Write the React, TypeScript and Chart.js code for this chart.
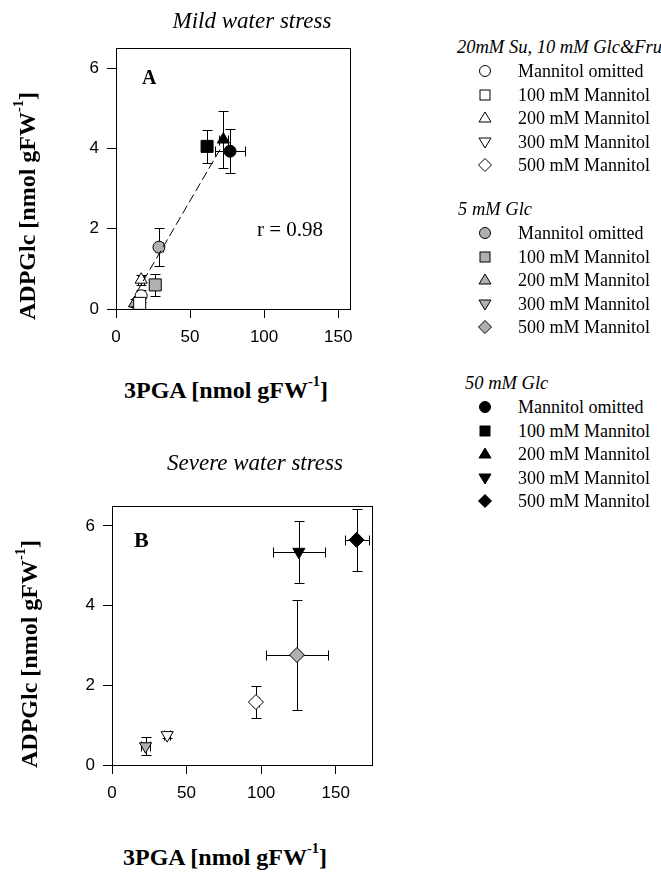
import React, { useEffect, useRef } from "react";
import { Chart, registerables } from "chart.js";
Chart.register(...registerables);

// ---------- DATA ----------
// groups: 0 = 20mM Su, 10 mM Glc&Fru ; 1 = 5 mM Glc ; 2 = 50 mM Glc
// treatments: 0 = omitted, 1 = 100 mM, 2 = 200 mM, 3 = 300 mM, 4 = 500 mM
const groupTitles = ["20mM Su, 10 mM Glc&Fru", "5 mM Glc", "50 mM Glc"];
const treatmentLabels = ["Mannitol omitted", "100 mM Mannitol", "200 mM Mannitol", "300 mM Mannitol", "500 mM Mannitol"];

// Panel A — mild water stress
const mildGroup = [0, 0, 0, 1, 1, 1, 2, 2, 2];
const mildTreat = [1, 0, 2, 2, 1, 0, 1, 2, 0];
const mildPGA = [16, 17, 17, 12.5, 26.5, 29, 61.5, 72.5, 77];
const mildADPGlc = [0.14, 0.33, 0.73, 0.14, 0.6, 1.54, 4.05, 4.22, 3.93];
const mildPGAErr = [1.5, 2, 2, 1.5, 2, 3, 3, 3, 10];
const mildADPGlcErr = [0.08, 0.15, 0.12, 0.1, 0.27, 0.48, 0.42, 0.72, 0.55];
const mildFitPGA = [14, 70.5];
const mildFitADPGlc = [0.42, 3.99];
const mildR = "r = 0.98";

// Panel B — severe water stress
const severeGroup = [0, 0, 1, 1, 2, 2];
const severeTreat = [3, 4, 3, 4, 3, 4];
const severePGA = [37, 96.5, 22.5, 124, 125.3, 164];
const severeADPGlc = [0.75, 1.58, 0.47, 2.76, 5.35, 5.65];
const severePGAErr = [2, 2, 3, 21, 17.5, 8];
const severeADPGlcErr = [0.08, 0.4, 0.23, 1.38, 0.78, 0.78];

const xTicks = [0, 50, 100, 150];
const yTicks = [0, 2, 4, 6];

// ---------- STYLES ----------
const SERIF = '"Liberation Serif", "Times New Roman", serif';
const SANS = '"Liberation Sans", Arial, sans-serif';
const groupFill = ["#ffffff", "#b0b0b0", "#000000"];
const treatShape = ["circle", "rect", "triangle", "triangle", "rectRot"];
const treatRot = [0, 0, 0, 180, 0];
const treatRadius = [6, 8.5, 7, 7, 7.5];

const snap = (v: number) => Math.round(v) + 0.5;

const errorAndFrame = {
  id: "errorAndFrame",
  beforeDatasetsDraw(chart: any) {
    const ctx = chart.ctx;
    const xs = chart.scales.x;
    const ys = chart.scales.y;
    ctx.save();
    ctx.strokeStyle = "#000";
    ctx.lineWidth = 1;
    const cap = 5;
    chart.data.datasets.forEach((ds: any) => {
      if (ds.errX == null) return;
      const p = ds.data[0];
      const px = snap(xs.getPixelForValue(p.x));
      const py = snap(ys.getPixelForValue(p.y));
      const x0 = snap(xs.getPixelForValue(p.x - ds.errX));
      const x1 = snap(xs.getPixelForValue(p.x + ds.errX));
      const y0 = snap(ys.getPixelForValue(p.y - ds.errY));
      const y1 = snap(ys.getPixelForValue(p.y + ds.errY));
      ctx.beginPath();
      ctx.moveTo(px, y0); ctx.lineTo(px, y1);
      ctx.moveTo(px - cap, y0); ctx.lineTo(px + cap, y0);
      ctx.moveTo(px - cap, y1); ctx.lineTo(px + cap, y1);
      ctx.moveTo(x0, py); ctx.lineTo(x1, py);
      ctx.moveTo(x0, py - cap); ctx.lineTo(x0, py + cap);
      ctx.moveTo(x1, py - cap); ctx.lineTo(x1, py + cap);
      ctx.stroke();
    });
    ctx.restore();
  },
  afterDraw(chart: any) {
    const a = chart.chartArea;
    const ctx = chart.ctx;
    ctx.save();
    ctx.strokeStyle = "#000";
    ctx.lineWidth = 1;
    ctx.strokeRect(Math.round(a.left) + 0.5, Math.round(a.top) + 0.5, Math.round(a.right - a.left), Math.round(a.bottom - a.top));
    ctx.restore();
  },
};

function buildDatasets(group: number[], treat: number[], xv: number[], yv: number[], xe: number[], ye: number[]) {
  return xv.map((x, i) => ({
    type: "scatter",
    data: [{ x, y: yv[i] }],
    errX: xe[i],
    errY: ye[i],
    pointStyle: treatShape[treat[i]],
    rotation: treatRot[treat[i]],
    pointRadius: treatRadius[treat[i]],
    backgroundColor: groupFill[group[i]],
    borderColor: "#000",
    borderWidth: 1,
  }));
}

function makeOptions(xMax: number, pad: any, yW: number, xH: number) {
  const common = (ticks: number[]) => ({
    afterBuildTicks: (s: any) => { s.ticks = ticks.map((v) => ({ value: v })); },
    grid: { drawOnChartArea: false, drawTicks: true, tickLength: 9, color: "#000", tickColor: "#000" },
    border: { display: true, color: "#000", width: 1 },
  });
  return {
    responsive: false,
    animation: false,
    layout: { padding: pad },
    plugins: { legend: { display: false }, tooltip: { enabled: false } },
    scales: {
      x: {
        type: "linear", min: 0, max: xMax, position: "bottom",
        ...common(xTicks),
        afterFit: (s: any) => { s.height = xH; },
        ticks: { font: { family: SANS, size: 17 }, color: "#000", padding: 9, maxRotation: 0, autoSkip: false },
      },
      y: {
        type: "linear", min: 0, max: 6.5, position: "left",
        ...common(yTicks),
        afterFit: (s: any) => { s.width = yW; },
        ticks: { font: { family: SANS, size: 17 }, color: "#000", padding: 8, autoSkip: false },
      },
    },
  };
}

function Marker({ g, t }: { g: number; t: number }) {
  const fill = groupFill[g];
  const c = 8;
  let shape: any;
  if (t === 0) shape = <circle cx={c} cy={c} r={5.5} fill={fill} stroke="#000" strokeWidth={1} />;
  else if (t === 1) shape = <rect x={c - 5} y={c - 5} width={10} height={10} fill={fill} stroke="#000" strokeWidth={1} />;
  else if (t === 2) shape = <polygon points={`${c},${c - 6} ${c + 6},${c + 4} ${c - 6},${c + 4}`} fill={fill} stroke="#000" strokeWidth={1} />;
  else if (t === 3) shape = <polygon points={`${c},${c + 6} ${c + 6},${c - 4} ${c - 6},${c - 4}`} fill={fill} stroke="#000" strokeWidth={1} />;
  else shape = <polygon points={`${c},${c - 6.5} ${c + 6.5},${c} ${c},${c + 6.5} ${c - 6.5},${c}`} fill={fill} stroke="#000" strokeWidth={1} />;
  return <svg width={16} height={16} style={{ display: "block" }}>{shape}</svg>;
}

const abs = (left: number, top: number, extra: any = {}) => ({
  position: "absolute" as const, left, top, whiteSpace: "nowrap" as const, lineHeight: 1, ...extra,
});

function AxisTitle({ text, cx, cy, rotate }: { text: string; cx: number; cy: number; rotate?: boolean }) {
  return (
    <div style={abs(cx, cy, {
      transform: `translate(-50%, -50%)${rotate ? " rotate(-90deg)" : ""}`,
      fontFamily: SERIF, fontWeight: "bold", fontSize: 24, color: "#000",
    })}>
      {text} [nmol gFW<sup style={{ fontSize: "0.6em", verticalAlign: "0.8em" }}>-1</sup>]
    </div>
  );
}

export default function App() {
  const refA = useRef<HTMLCanvasElement>(null);
  const refB = useRef<HTMLCanvasElement>(null);

  useEffect(() => {
    const dsA: any[] = buildDatasets(mildGroup, mildTreat, mildPGA, mildADPGlc, mildPGAErr, mildADPGlcErr);
    dsA.unshift({
      type: "line",
      data: mildFitPGA.map((x, i) => ({ x, y: mildFitADPGlc[i] })),
      borderColor: "#000", borderWidth: 1, borderDash: [9, 4], pointRadius: 0, fill: false,
    });
    const chartA = new Chart(refA.current as any, {
      type: "scatter",
      data: { datasets: dsA },
      options: makeOptions(158, { left: 0, top: 48, right: 30, bottom: 0 }, 116, 51) as any,
      plugins: [errorAndFrame],
    } as any);
    const dsB: any[] = buildDatasets(severeGroup, severeTreat, severePGA, severeADPGlc, severePGAErr, severeADPGlcErr);
    const chartB = new Chart(refB.current as any, {
      type: "scatter",
      data: { datasets: dsB },
      options: makeOptions(174, { left: 0, top: 46, right: 7, bottom: 0 }, 112, 55) as any,
      plugins: [errorAndFrame],
    } as any);
    return () => { chartA.destroy(); chartB.destroy(); };
  }, []);

  const headerY = [47, 209, 383];
  const headerX = [457, 458, 465];

  return (
    <div style={{ position: "absolute", left: 0, top: 0, width: 661, height: 876, overflow: "hidden", background: "#fff", fontFamily: SERIF, color: "#000" }}>
      <canvas ref={refA} width={380} height={360} style={{ position: "absolute", left: 0, top: 0 }} />
      <canvas ref={refB} width={380} height={360} style={{ position: "absolute", left: 0, top: 460 }} />

      <div style={abs(252, 20, { transform: "translate(-50%,-50%)", fontStyle: "italic", fontSize: 23 })}>Mild water stress</div>
      <div style={abs(142, 77, { transform: "translateY(-50%)", fontWeight: "bold", fontSize: 20 })}>A</div>
      <div style={abs(257, 229, { transform: "translateY(-50%)", fontSize: 21 })}>{mildR}</div>
      <AxisTitle text="3PGA" cx={226} cy={388} />
      <AxisTitle text="ADPGlc" cx={25} cy={206} rotate />

      <div style={abs(255, 462, { transform: "translate(-50%,-50%)", fontStyle: "italic", fontSize: 23 })}>Severe water stress</div>
      <div style={abs(134, 540, { transform: "translateY(-50%)", fontWeight: "bold", fontSize: 22 })}>B</div>
      <AxisTitle text="3PGA" cx={225} cy={855} />
      <AxisTitle text="ADPGlc" cx={27} cy={654} rotate />

      {groupTitles.map((title, g) => (
        <React.Fragment key={g}>
          <div style={abs(headerX[g], headerY[g], { transform: "translateY(-50%)", fontStyle: "italic", fontSize: 18.5 })}>{title}</div>
          {treatmentLabels.map((lab, t) => {
            const y = headerY[g] + 24 + t * 23.5;
            return (
              <React.Fragment key={t}>
                <div style={abs(477, y - 8)}><Marker g={g} t={t} /></div>
                <div style={abs(518, y, { transform: "translateY(-50%)", fontSize: 18 })}>{lab}</div>
              </React.Fragment>
            );
          })}
        </React.Fragment>
      ))}
    </div>
  );
}
